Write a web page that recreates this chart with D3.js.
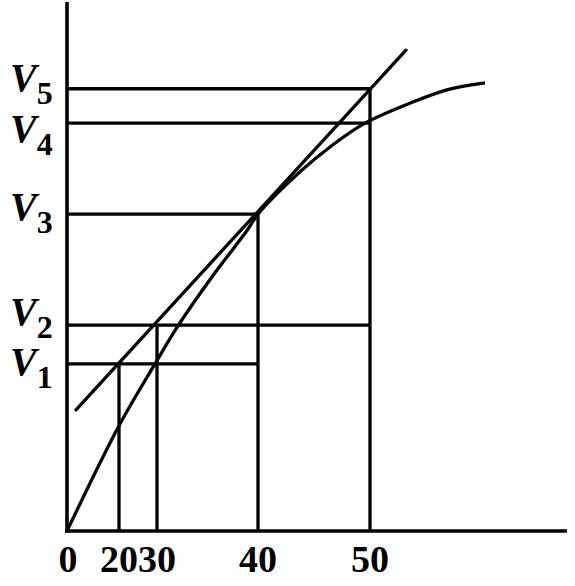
<!DOCTYPE html>
<html>
<head>
<meta charset="utf-8">
<script src="https://cdn.jsdelivr.net/npm/d3@7"></script>
<style>
  html, body { margin: 0; padding: 0; background: #fff; }
  svg { display: block; }
  text { font-family: "Liberation Serif", "Times New Roman", serif; fill: #000; font-weight: bold; }
</style>
</head>
<body>
<svg id="chart" width="575" height="586"></svg>
<script>
// ---- data (abstract units) ----
const xTickLabels = ["0", "20", "30", "40", "50"];
const xTickValues = [0, 10.4, 18.0, 38.2, 60.6];
const vLabels = ["1", "2", "3", "4", "5"];
const vValues = [31.6, 38.9, 59.9, 77.1, 83.6];
const vLineEnds = [38.2, 60.6, 38.2, 60.6, 60.6];   // x where each V line stops
const curveX = [0, 10.4, 17.6, 22.0, 29.2, 36.0, 38.2, 46.6, 52.6, 59.6, 69.2, 76.0, 83.6];
const curveY = [0, 19.9, 31.6, 38.5, 48.3, 56.8, 59.9, 67.9, 72.6, 77.1, 81.1, 83.4, 84.7];
const tangentX = [1.8, 67.8];
const tangentY = [22.9, 90.9];
const dropX = [10.4, 18.0, 38.2, 60.6];     // vertical drop lines
const dropTop = [31.6, 38.9, 59.9, 83.6];

// ---- layout ----
const svg = d3.select("#chart");
const x = d3.scaleLinear().domain([0, 100]).range([67, 567]);
const y = d3.scaleLinear().domain([0, 100]).range([531, 2]);
const labelNudge = [11, 0, 6, 19, 2];

const g = svg.append("g").attr("stroke", "#000").attr("fill", "none").attr("stroke-linecap", "butt");

// horizontal V lines
vValues.forEach((v, i) => {
  g.append("line")
    .attr("x1", x(0)).attr("x2", x(vLineEnds[i]))
    .attr("y1", y(v)).attr("y2", y(v))
    .attr("stroke-width", 3.3);
});

// vertical drop lines
dropX.forEach((d, i) => {
  g.append("line")
    .attr("x1", x(d)).attr("x2", x(d))
    .attr("y1", y(0)).attr("y2", y(dropTop[i]))
    .attr("stroke-width", 3.3);
});

// curve
const curvePts = curveX.map((cx, i) => [cx, curveY[i]]);
g.append("path")
  .attr("d", d3.line().x(d => x(d[0])).y(d => y(d[1])).curve(d3.curveCatmullRom.alpha(0.5))(curvePts))
  .attr("stroke-width", 3.3);

// tangent
g.append("line")
  .attr("x1", x(tangentX[0])).attr("y1", y(tangentY[0]))
  .attr("x2", x(tangentX[1])).attr("y2", y(tangentY[1]))
  .attr("stroke-width", 3.3).attr("stroke-linecap", "round");

// axes
g.append("line").attr("x1", x(0)).attr("x2", x(0)).attr("y1", y(100)).attr("y2", y(0) + 1.75).attr("stroke-width", 3.6);
g.append("line").attr("x1", x(0) - 1.75).attr("x2", x(100)).attr("y1", y(0)).attr("y2", y(0)).attr("stroke-width", 3.6);

// x tick labels
svg.selectAll("text.xl").data(xTickLabels).enter().append("text")
  .attr("class", "xl")
  .attr("x", (d, i) => x(xTickValues[i]) + (i === 0 ? 1 : 0))
  .attr("y", 572)
  .attr("text-anchor", "middle")
  .attr("font-size", 38)
  .text(d => d);

// V labels
vLabels.forEach((s, i) => {
  const t = svg.append("text")
    .attr("x", 10)
    .attr("y", y(vValues[i]) + labelNudge[i]);
  t.append("tspan").attr("font-style", "italic").attr("font-size", 40).text("V");
  t.append("tspan").attr("font-size", 32).attr("dy", 13).text(s);
});
</script>
</body>
</html>
